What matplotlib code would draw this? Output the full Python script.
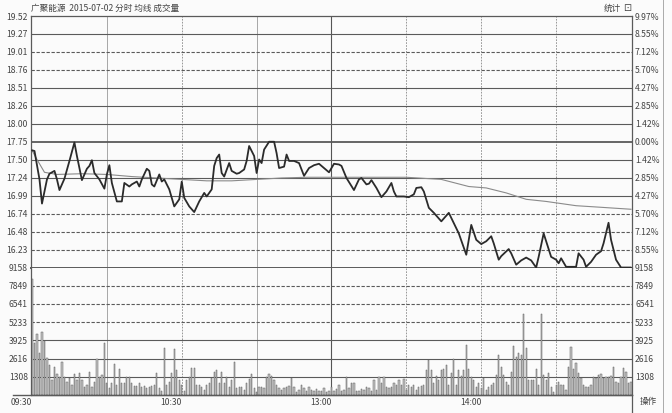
import matplotlib
import matplotlib.pyplot as plt
from matplotlib.lines import Line2D

matplotlib.use("Agg")

plt.rcParams["font.family"] = ["Noto Sans CJK SC", "DejaVu Sans"]

# trading minutes since 09:30 (0..240, lunch break removed)
price_min = [0, 1, 3, 4, 6, 7, 9, 10, 11, 13, 15, 17, 18, 20, 22, 23, 24, 25, 27, 29,
             30, 31, 32, 34, 36, 37, 39, 40, 42, 43, 44, 46, 47, 48, 49, 51, 52, 53, 55, 57,
             59, 60, 61, 63, 65, 67, 69, 70, 72, 73, 74, 75, 76, 77, 79, 80, 82, 83, 85, 86,
             87, 89, 90, 91, 92, 93, 95, 97, 98, 99, 101, 102, 103, 105, 107, 109, 111, 113, 115, 117,
             119, 121, 123, 124, 126, 129, 131, 132, 134, 135, 136, 138, 140, 142, 144, 145, 146, 149, 151, 153,
             154, 156, 157, 159, 161, 164, 166, 167, 170, 171, 174, 175, 176, 178, 180, 182, 184, 185, 187, 188,
             191, 192, 194, 196, 198, 200, 202, 203, 205, 206, 208, 210, 211, 212, 214, 218, 219, 221, 222, 224,
             226, 228, 229, 231, 232, 234, 236, 240]
price = [17.63, 17.62, 17.22, 16.88, 17.22, 17.30, 17.34, 17.22, 17.07, 17.23, 17.48, 17.74, 17.55, 17.21, 17.37, 17.41, 17.49, 17.31, 17.22, 17.09,
         17.29, 17.42, 17.17, 16.91, 16.91, 17.17, 17.12, 17.15, 17.19, 17.12, 17.22, 17.37, 17.34, 17.15, 17.12, 17.29, 17.19, 17.22, 17.08, 16.84,
         16.94, 17.19, 16.96, 16.84, 16.76, 16.91, 17.03, 16.98, 17.08, 17.41, 17.52, 17.57, 17.31, 17.26, 17.45, 17.34, 17.30, 17.31, 17.36, 17.48,
         17.69, 17.55, 17.31, 17.50, 17.45, 17.64, 17.75, 17.75, 17.59, 17.38, 17.40, 17.57, 17.48, 17.48, 17.45, 17.27, 17.38, 17.42, 17.44, 17.38,
         17.32, 17.44, 17.43, 17.41, 17.24, 17.07, 17.22, 17.24, 17.15, 17.16, 17.21, 17.10, 16.97, 17.05, 17.17, 17.05, 16.98, 16.98, 16.97, 17.01,
         17.10, 17.11, 17.05, 16.82, 16.75, 16.63, 16.71, 16.75, 16.53, 16.46, 16.16, 16.37, 16.58, 16.37, 16.31, 16.35, 16.42, 16.32, 16.09, 16.14,
         16.24, 16.18, 16.02, 16.08, 16.12, 16.08, 15.98, 16.13, 16.46, 16.35, 16.13, 16.09, 16.04, 16.11, 15.99, 15.99, 16.18, 16.09, 15.99, 16.06,
         16.16, 16.21, 16.32, 16.61, 16.37, 16.09, 15.98, 15.98]

avg_min = [0, 2, 5, 10, 20, 30, 40, 50, 60, 70, 80, 90, 100, 110, 120, 150, 164, 175, 182, 190,
           198, 206, 218, 227, 240]
avg_price = [17.63, 17.50, 17.32, 17.29, 17.30, 17.29, 17.26, 17.24, 17.22, 17.20, 17.20, 17.22, 17.24, 17.25, 17.25, 17.25, 17.22, 17.12, 17.10, 17.03,
             16.94, 16.91, 16.85, 16.83, 16.80]

volume = [8300, 3770, 4390, 3050, 4510, 3910, 2640, 2160, 1080, 2040, 1510, 1270, 2350, 1270, 960, 1200, 720, 1510, 1080, 1560,
          1080, 600, 720, 1680, 600, 960, 2570, 1320, 1440, 3720, 840, 480, 840, 2210, 720, 1900, 840, 890, 1270, 1270,
          840, 650, 650, 840, 600, 650, 480, 550, 650, 720, 1560, 480, 310, 3360, 720, 960, 1560, 3290, 1800, 1080,
          720, 310, 1080, 1270, 1920, 1920, 720, 720, 600, 360, 720, 840, 1200, 1680, 1800, 840, 1680, 840, 1320, 600,
          1080, 2400, 480, 600, 550, 360, 890, 1130, 1510, 480, 240, 600, 550, 480, 1320, 1510, 1370, 1080, 720, 480,
          360, 480, 600, 650, 1200, 550, 240, 360, 720, 480, 310, 550, 360, 310, 410, 310, 310, 480, 240, 310,
          600, 310, 410, 720, 310, 360, 1270, 480, 890, 890, 310, 310, 410, 360, 600, 480, 310, 1080, 360, 1270,
          840, 1270, 550, 480, 600, 890, 720, 1080, 720, 1130, 360, 720, 600, 720, 360, 600, 650, 720, 1800, 2520,
          1800, 840, 1370, 1080, 1800, 1850, 2160, 720, 1560, 2570, 720, 1800, 1370, 1800, 3600, 1850, 1320, 1080, 600, 890,
          480, 1200, 360, 600, 720, 840, 1440, 2880, 2040, 1440, 960, 720, 1680, 3530, 2760, 3000, 2880, 5810, 3410, 1080,
          1080, 1080, 1850, 720, 5810, 1440, 1080, 1560, 600, 240, 720, 960, 720, 720, 360, 2040, 3480, 1850, 2280, 1560,
          1200, 720, 600, 600, 720, 1320, 1200, 1440, 1510, 1200, 1320, 1270, 1370, 1990, 960, 840, 1270, 1920, 1680, 840,
          960]

prev_close = 17.75
price_labels = ["19.52", "19.27", "19.01", "18.76", "18.51", "18.26", "18.00", "17.75",
                "17.50", "17.24", "16.99", "16.74", "16.48", "16.23"]
pct_labels = ["9.97%", "8.55%", "7.12%", "5.70%", "4.27%", "2.85%", "1.42%", "0.00%",
              "1.42%", "2.85%", "4.27%", "5.70%", "7.12%", "8.55%"]
vol_ticks = [1308, 2616, 3925, 5233, 6541, 7849, 9158]
vol_labels = ["1308", "2616", "3925", "5233", "6541", "7849", "9158"]
time_ticks = [0, 60, 120, 180]
time_labels = ["09:30", "10:30", "13:00", "14:00"]

W, H = 672, 413
fig = plt.figure(figsize=(W / 100, H / 100), dpi=100)
fig.patch.set_facecolor("#fbfbfb")

left, right = 31, 632
p_top, split, v_bot = 16, 267.5, 395
ax = fig.add_axes([left / W, (H - split) / H, (right - left) / W, (split - p_top) / H])
vax = fig.add_axes([left / W, (H - v_bot) / H, (right - left) / W, (v_bot - split) / H])

step = prev_close * 0.0997 / 7
ylo, yhi = prev_close - 7 * step, prev_close + 7 * step
grid_c = "#5a5a5a"
txt_c = "#444444"
fs = 6.2

# price rows, top to bottom
p_styles = ["-", "-", "--", "--", "-", "-", "-", "-", "-", "-", "-", "--", "--", "--"]
ticks = [prev_close + (7 - i) * step for i in range(14)]
for a in (ax, vax):
    a.set_facecolor("#fbfbfb")
    a.set_xlim(-0.4, 240.4)
    for s in a.spines.values():
        s.set_color(grid_c)
        s.set_linewidth(0.9)
    for m in range(30, 240, 30):
        if m == 120:
            a.axvline(m, color="#555555", lw=0.8, zorder=0)
        elif m in (30, 90):
            a.axvline(m, color="#999999", lw=0.6, zorder=0)
        else:
            a.axvline(m, color="#888888", lw=0.6, ls=(0, (2, 1.5)), zorder=0)

for t, st in zip(ticks[1:], p_styles[1:]):
    lw = 1.3 if abs(t - prev_close) < 1e-6 else 0.8
    ax.axhline(t, color=grid_c, lw=lw, ls=st if st == "-" else (0, (3, 1.5)), zorder=0)

ax.plot(avg_min, avg_price, color="#8a8a8a", lw=0.8, zorder=2)
ax.plot(price_min, price, color="#2b2b2b", lw=1.3, zorder=3,
        solid_joinstyle="round", solid_capstyle="round")
ax.set_ylim(ylo, yhi)
ax.set_yticks(ticks)
ax.set_yticklabels(price_labels)
ax.set_xticks([])
ax.spines["bottom"].set_linewidth(1.4)

rax = ax.twinx()
rax.set_ylim(ylo, yhi)
rax.set_yticks(ticks)
rax.set_yticklabels(pct_labels)
for s in rax.spines.values():
    s.set_visible(False)

v_styles = ["-", "-", "-", "--", "--", "--"]
for t, st in zip(vol_ticks[:-1], v_styles):
    vax.axhline(t, color=grid_c, lw=0.8, ls=st if st == "-" else (0, (3, 1.5)), zorder=0)
vax.bar(range(len(volume)), volume, width=0.5, color="#c4c4c4",
        edgecolor="#5e5e5e", linewidth=0.35, zorder=2)
vax.set_ylim(0, 9158)
vax.set_yticks(vol_ticks)
vax.set_yticklabels(vol_labels)
vax.set_xticks(time_ticks)
vax.set_xticklabels(time_labels, ha="right")
vax.spines["top"].set_visible(False)

rvax = vax.twinx()
rvax.set_ylim(0, 9158)
rvax.set_yticks(vol_ticks)
rvax.set_yticklabels(vol_labels)
for s in rvax.spines.values():
    s.set_visible(False)

for a in (ax, rax, vax, rvax):
    a.tick_params(axis="both", length=0, labelsize=fs, labelcolor=txt_c, pad=2.2)
vax.tick_params(axis="x", pad=2.5)

# frame lines outside the panels
fig.add_artist(Line2D([13 / W, right / W], [(H - v_bot) / H] * 2, color=grid_c, lw=1.0))
fig.add_artist(Line2D([right / W] * 2, [0, (H - v_bot) / H], color=grid_c, lw=0.9))
fig.add_artist(Line2D([663 / W] * 2, [0, 1], color="#aaaaaa", lw=0.7))

fig.text(left / W, (H - 8) / H, "广聚能源  2015-07-02 分时 均线 成交量",
         fontsize=fs, color=txt_c, va="center", ha="left")
fig.text(621 / W, (H - 8) / H, "统计", fontsize=fs, color=txt_c, va="center", ha="right")
fig.text(623 / W, (H - 8) / H, "⊡", fontsize=7, color=txt_c, va="center", ha="left")
fig.text(648 / W, (H - 401) / H, "操作", fontsize=fs, color=txt_c, va="center", ha="center")

fig.savefig("out.png", dpi=100, facecolor=fig.get_facecolor())
